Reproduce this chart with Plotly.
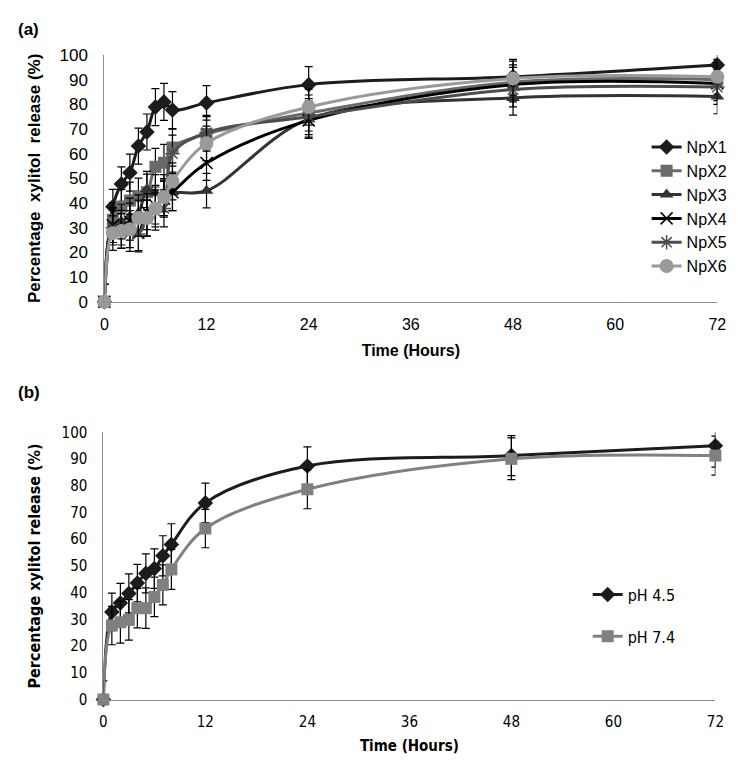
import plotly.graph_objects as go

# Sampling times (hours)
time_h = [0, 1, 2, 3, 4, 5, 6, 7, 8, 12, 24, 48, 72]

# Panel (a): release of each formulation (%)
npx1 = [0, 38.5, 47.7, 52.3, 63.1, 68.8, 78.9, 81.0, 77.7, 80.6, 88.0, 91.2, 96.0]
npx2 = [0, 33.2, 38.5, 41.0, 42.8, 44.4, 54.7, 56.3, 62.5, 68.0, 76.5, 89.0, 90.0]
npx3 = [0, 31.0, 32.5, 34.5, 36.0, 45.5, 44.0, 44.0, 44.4, 45.0, 74.0, 82.6, 83.2]
npx4 = [0, 31.0, 30.0, 32.5, 28.0, 36.5, 39.0, 41.8, 44.4, 56.2, 73.5, 88.0, 88.5]
npx5 = [0, 30.0, 28.6, 27.9, 27.5, 33.9, 36.5, 37.8, 60.0, 68.5, 75.0, 86.0, 87.0]
npx6 = [0, 27.8, 28.7, 29.4, 33.9, 33.9, 37.8, 42.4, 48.8, 64.2, 78.9, 90.5, 91.2]
err_a = [7, 7, 7, 7.5, 7.3, 7.3, 7.5, 7.5, 7.5, 7, 7.3, 7, 7]

# Panel (b): release at two pH values (%)
ph45 = [0, 32.8, 36.1, 39.7, 43.6, 47.2, 49.0, 53.8, 58.0, 73.6, 87.4, 91.3, 95.0]
ph74 = [0, 27.7, 28.9, 29.8, 34.2, 34.2, 38.4, 42.9, 48.7, 64.0, 78.7, 90.1, 91.3]
err_45 = [7, 7, 7.4, 7.3, 7, 7.3, 7.4, 7.5, 7.8, 7.4, 7.2, 7.5, 8]
err_74 = [0, 7.2, 7.8, 7.6, 7.4, 7.6, 7.4, 7.5, 7.5, 7.2, 7.3, 7.8, 7.3]

x_ticks = [0, 12, 24, 36, 48, 60, 72]

W, H = 738, 761
FONT_A = "Liberation Sans, Arial, sans-serif"
FONT_B = "Liberation Sans Narrow, DejaVu Sans Condensed, Liberation Sans, sans-serif"


def px_x(x):
    return x / W


def px_y(y):
    return 1 - y / H


series_a = [
    ("NpX1", npx1, "#1c1c1c", dict(symbol="diamond", size=12, color="#1c1c1c")),
    ("NpX2", npx2, "#6a6a6a", dict(symbol="square", size=12, color="#6a6a6a")),
    ("NpX3", npx3, "#333333", dict(symbol="triangle-up", size=12, color="#333333")),
    ("NpX4", npx4, "#000000", dict(symbol="x-thin-open", size=12, line=dict(color="#000000", width=1.5))),
    ("NpX5", npx5, "#4d4d4d", dict(symbol="asterisk-open", size=12, line=dict(color="#4d4d4d", width=1.5))),
    ("NpX6", npx6, "#9a9a9a", dict(symbol="circle", size=14, color="#9a9a9a")),
]

fig = go.Figure()

for name, vals, color, marker in series_a:
    fig.add_trace(go.Scatter(
        x=time_h, y=vals, name=name, mode="lines+markers",
        line=dict(color=color, width=3, shape="spline"),
        marker=marker, cliponaxis=False,
        error_y=dict(type="data", array=err_a, color="#000000", thickness=1.2, width=4),
        xaxis="x", yaxis="y", legend="legend",
    ))

series_b = [
    ("pH 4.5", ph45, err_45, "#1c1c1c", "diamond", 12),
    ("pH 7.4", ph74, err_74, "#808080", "square", 12),
]
for i, (name, vals, err, color, symbol, size) in enumerate(series_b):
    fig.add_trace(go.Scatter(
        x=time_h, y=vals, name=name, mode="lines+markers",
        line=dict(color=color, width=3, shape="spline"),
        marker=dict(symbol=symbol, size=size, color=color), cliponaxis=False,
        error_y=dict(type="data", array=err, color="#000000", thickness=1.2, width=4),
        xaxis="x2", yaxis="y2", legend="legend2", legendgroup=f"g{i}",
    ))

axis_common = dict(
    range=[0, 100], dtick=10, showgrid=False, zeroline=False,
    showline=True, linecolor="#8c8c8c", linewidth=1, ticks="",
)

fig.update_layout(
    width=W, height=H,
    margin=dict(l=0, r=0, t=0, b=0),
    plot_bgcolor="white", paper_bgcolor="white",
    xaxis=dict(
        domain=[px_x(94), px_x(718)], anchor="y", range=[0, 72],
        tickvals=x_ticks, showgrid=False, zeroline=False,
        showline=True, linecolor="#8c8c8c", linewidth=1, ticks="",
        ticklabelstandoff=8,
        tickfont=dict(family=FONT_A, size=16, color="#000000"),
        title=dict(text="<b>Time (Hours)</b>", standoff=12,
                   font=dict(family=FONT_A, size=16, color="#000000")),
    ),
    yaxis=dict(
        domain=[px_y(292), px_y(39)], anchor="x",
        ticklabelstandoff=12,
        tickfont=dict(family=FONT_A, size=17, color="#000000"),
        title=dict(text="<b>Percentage\u00a0 xylitol\u00a0 release (%)</b>", standoff=14,
                   font=dict(family=FONT_A, size=17, color="#000000")),
        **axis_common,
    ),
    xaxis2=dict(
        domain=[px_x(93), px_x(716)], anchor="y2", range=[0, 72],
        tickvals=x_ticks, showgrid=False, zeroline=False,
        showline=True, linecolor="#8c8c8c", linewidth=1, ticks="",
        ticklabelstandoff=8,
        tickfont=dict(family=FONT_B, size=15, color="#000000"),
        title=dict(text="<b>Time (Hours)</b>", standoff=10,
                   font=dict(family=FONT_B, size=15, color="#000000")),
    ),
    yaxis2=dict(
        domain=[px_y(700), px_y(426)], anchor="x2",
        ticklabelstandoff=12,
        tickfont=dict(family=FONT_B, size=15, color="#000000"),
        title=dict(text="<b>Percentage xylitol release (%)</b>", standoff=16,
                   font=dict(family=FONT_B, size=16, color="#000000")),
        **axis_common,
    ),
    legend=dict(
        x=px_x(646), y=px_y(116), xanchor="left", yanchor="top",
        bgcolor="rgba(0,0,0,0)", itemwidth=30, tracegroupgap=0,
        font=dict(family=FONT_A, size=16, color="#000000"),
    ),
    legend2=dict(
        x=px_x(586), y=px_y(575), xanchor="left", yanchor="top",
        bgcolor="rgba(0,0,0,0)", itemwidth=30, traceorder="grouped", tracegroupgap=18,
        font=dict(family=FONT_B, size=16, color="#000000"),
    ),
    annotations=[
        dict(text="<b>(a)</b>", x=px_x(4), y=px_y(13), xref="paper", yref="paper",
             xanchor="left", yanchor="middle", showarrow=False,
             font=dict(family=FONT_A, size=17, color="#000000")),
        dict(text="<b>(b)</b>", x=px_x(4), y=px_y(385), xref="paper", yref="paper",
             xanchor="left", yanchor="middle", showarrow=False,
             font=dict(family=FONT_A, size=17, color="#000000")),
    ],
)

fig.write_html("out.html")
